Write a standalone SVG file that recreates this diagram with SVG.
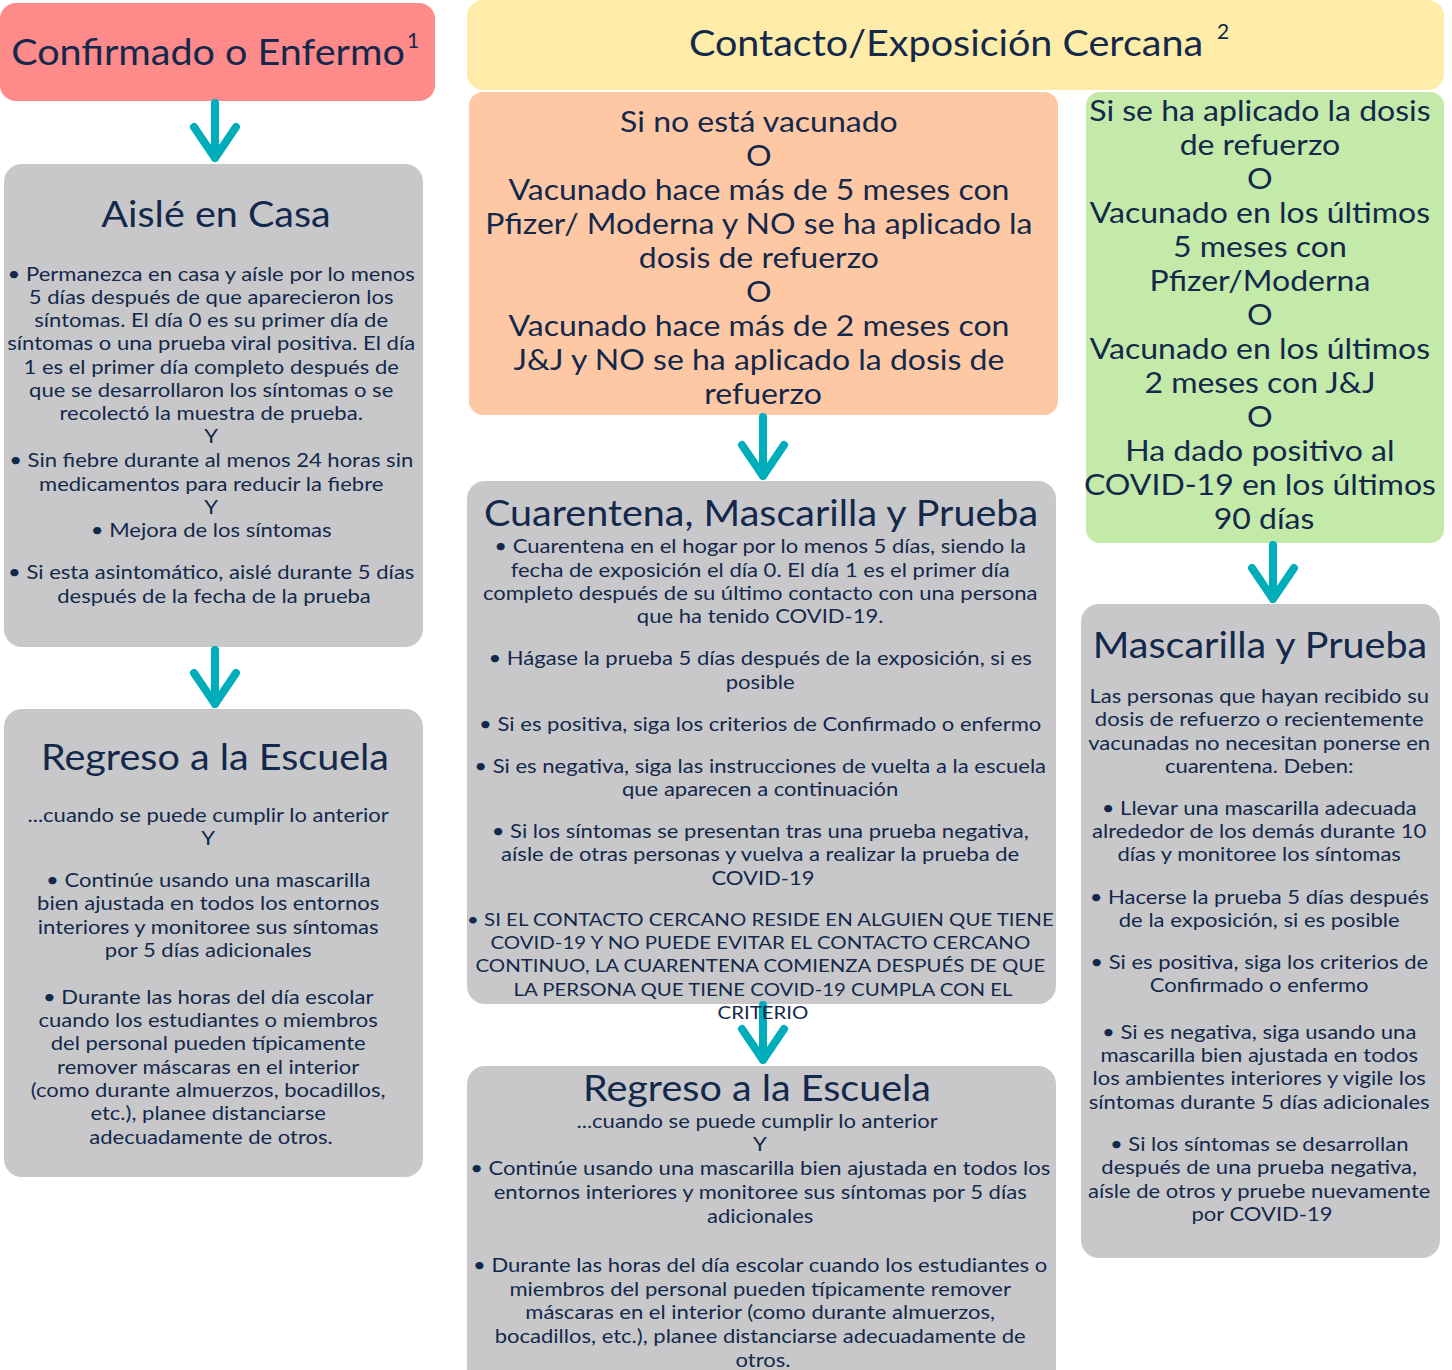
<svg xmlns="http://www.w3.org/2000/svg" width="1452" height="1370" viewBox="0 0 1452 1370">
<defs>
<style>
text{font-family:Lato,"Liberation Sans",sans-serif;fill:#13284a;text-anchor:middle}
.t{font-size:37px}
.b{font-size:19px}
.c{font-size:17.6px}
.m{font-size:28px}
.sup{font-size:21px;text-anchor:start}
.gray{fill:#c8c8ca}
.arr{stroke:#00adbb;stroke-width:8;fill:none;stroke-linecap:round;stroke-linejoin:round}
</style>
</defs>
<rect width="1452" height="1370" fill="#ffffff"/>
<g id="confirmado">
<rect x="0" y="3" width="435" height="98" rx="16" fill="#ff8a8a"/>
<g transform="translate(208 0) scale(1.068 1)"><text class="t" x="0" y="65">Confirmado o Enfermo</text></g>
<text class="sup" x="407" y="48">1</text>
</g>
<g id="contacto">
<rect x="467" y="0" width="977" height="90" rx="16" fill="#ffeca8"/>
<g transform="translate(946 0) scale(1.068 1)"><text class="t" x="0" y="56">Contacto/Exposición Cercana</text></g>
<text class="sup" x="1217" y="39">2</text>
</g>
<g id="no-vacunado">
<rect x="469" y="92" width="589" height="323" rx="14" fill="#ffc8a5"/>
<g transform="translate(763 0) scale(1.143 1)">
<text class="m">
<tspan x="0" y="132">Si no está vacunado</tspan>
<tspan x="0" y="166">O</tspan>
<tspan x="0" y="200">Vacunado hace más de 5 meses con</tspan>
<tspan x="0" y="234">Pfizer/ Moderna y NO se ha aplicado la</tspan>
<tspan x="0" y="268">dosis de refuerzo</tspan>
<tspan x="0" y="302">O</tspan>
<tspan x="0" y="336">Vacunado hace más de 2 meses con</tspan>
<tspan x="0" y="370">J&amp;J y NO se ha aplicado la dosis de</tspan>
<tspan x="0" y="404">refuerzo</tspan>
</text>
</g>
</g>
<g id="refuerzo">
<rect x="1086" y="92" width="358" height="451" rx="14" fill="#c3eaa8"/>
<g transform="translate(1264 0) scale(1.143 1)">
<text class="m">
<tspan x="0" y="121">Si se ha aplicado la dosis</tspan>
<tspan x="0" y="155">de refuerzo</tspan>
<tspan x="0" y="189">O</tspan>
<tspan x="0" y="223">Vacunado en los últimos</tspan>
<tspan x="0" y="257">5 meses con</tspan>
<tspan x="0" y="291">Pfizer/Moderna</tspan>
<tspan x="0" y="325">O</tspan>
<tspan x="0" y="359">Vacunado en los últimos</tspan>
<tspan x="0" y="393">2 meses con J&amp;J</tspan>
<tspan x="0" y="427">O</tspan>
<tspan x="0" y="461">Ha dado positivo al</tspan>
<tspan x="0" y="495">COVID-19 en los últimos</tspan>
<tspan x="0" y="529">90 días</tspan>
</text>
</g>
</g>
<g id="aisle">
<rect class="gray" x="4" y="164" width="419" height="483" rx="18"/>
<g transform="translate(216 0) scale(1.068 1)"><text class="t" x="0" y="227">Aislé en Casa</text></g>
<g transform="translate(214 0) scale(1.16 1)">
<text class="b">
<tspan x="0" y="281">• Permanezca en casa y aísle por lo menos</tspan>
<tspan x="0" y="304">5 días después de que aparecieron los</tspan>
<tspan x="0" y="327">síntomas. El día 0 es su primer día de</tspan>
<tspan x="0" y="350">síntomas o una prueba viral positiva. El día</tspan>
<tspan x="0" y="374">1 es el primer día completo después de</tspan>
<tspan x="0" y="397">que se desarrollaron los síntomas o se</tspan>
<tspan x="0" y="420">recolectó la muestra de prueba.</tspan>
<tspan x="0" y="443">Y</tspan>
<tspan x="0" y="467">• Sin fiebre durante al menos 24 horas sin</tspan>
<tspan x="0" y="491">medicamentos para reducir la fiebre</tspan>
<tspan x="0" y="514">Y</tspan>
<tspan x="0" y="537">• Mejora de los síntomas</tspan>
<tspan x="0" y="579">• Si esta asintomático, aislé durante 5 días</tspan>
<tspan x="0" y="603">después de la fecha de la prueba</tspan>
</text>
</g>
</g>
<g id="regreso-izq">
<rect class="gray" x="4" y="709" width="419" height="468" rx="18"/>
<g transform="translate(215 0) scale(1.068 1)"><text class="t" x="0" y="770">Regreso a la Escuela</text></g>
<g transform="translate(211 0) scale(1.16 1)">
<text class="b">
<tspan x="0" y="822">...cuando se puede cumplir lo anterior</tspan>
<tspan x="0" y="845">Y</tspan>
<tspan x="0" y="887">• Continúe usando una mascarilla</tspan>
<tspan x="0" y="910">bien ajustada en todos los entornos</tspan>
<tspan x="0" y="934">interiores y monitoree sus síntomas</tspan>
<tspan x="0" y="957">por 5 días adicionales</tspan>
<tspan x="0" y="1004">• Durante las horas del día escolar</tspan>
<tspan x="0" y="1027">cuando los estudiantes o miembros</tspan>
<tspan x="0" y="1050">del personal pueden típicamente</tspan>
<tspan x="0" y="1074">remover máscaras en el interior</tspan>
<tspan x="0" y="1097">(como durante almuerzos, bocadillos,</tspan>
<tspan x="0" y="1120">etc.), planee distanciarse</tspan>
<tspan x="0" y="1144">adecuadamente de otros.</tspan>
</text>
</g>
</g>
<g id="cuarentena">
<rect class="gray" x="467" y="481" width="589" height="523" rx="18"/>
<g transform="translate(761 0) scale(1.068 1)"><text class="t" x="0" y="526">Cuarentena, Mascarilla y Prueba</text></g>
<g transform="translate(763 0) scale(1.16 1)">
<text class="b">
<tspan x="0" y="553">• Cuarentena en el hogar por lo menos 5 días, siendo la</tspan>
<tspan x="0" y="577">fecha de exposición el día 0. El día 1 es el primer día</tspan>
<tspan x="0" y="600">completo después de su último contacto con una persona</tspan>
<tspan x="0" y="623">que ha tenido COVID-19.</tspan>
<tspan x="0" y="665">• Hágase la prueba 5 días después de la exposición, si es</tspan>
<tspan x="0" y="689">posible</tspan>
<tspan x="0" y="731">• Si es positiva, siga los criterios de Confirmado o enfermo</tspan>
<tspan x="0" y="773">• Si es negativa, siga las instrucciones de vuelta a la escuela</tspan>
<tspan x="0" y="796">que aparecen a continuación</tspan>
<tspan x="0" y="838">• Si los síntomas se presentan tras una prueba negativa,</tspan>
<tspan x="0" y="861">aísle de otras personas y vuelva a realizar la prueba de</tspan>
<tspan x="0" y="885">COVID-19</tspan>
</text>
<text class="c">
<tspan x="0" y="926">• SI EL CONTACTO CERCANO RESIDE EN ALGUIEN QUE TIENE</tspan>
<tspan x="0" y="949">COVID-19 Y NO PUEDE EVITAR EL CONTACTO CERCANO</tspan>
<tspan x="0" y="972">CONTINUO, LA CUARENTENA COMIENZA DESPUÉS DE QUE</tspan>
<tspan x="0" y="996">LA PERSONA QUE TIENE COVID-19 CUMPLA CON EL</tspan>
</text>
</g>
</g>
<g id="regreso-centro">
<rect class="gray" x="467" y="1066" width="589" height="324" rx="18"/>
<g transform="translate(757 0) scale(1.068 1)"><text class="t" x="0" y="1101">Regreso a la Escuela</text></g>
<g transform="translate(760 0) scale(1.16 1)">
<text class="b">
<tspan x="0" y="1128">...cuando se puede cumplir lo anterior</tspan>
<tspan x="0" y="1151">Y</tspan>
</text>
</g>
<g transform="translate(763 0) scale(1.16 1)">
<text class="b">
<tspan x="0" y="1175">• Continúe usando una mascarilla bien ajustada en todos los</tspan>
<tspan x="0" y="1199">entornos interiores y monitoree sus síntomas por 5 días</tspan>
<tspan x="0" y="1223">adicionales</tspan>
<tspan x="0" y="1272">• Durante las horas del día escolar cuando los estudiantes o</tspan>
<tspan x="0" y="1296">miembros del personal pueden típicamente remover</tspan>
<tspan x="0" y="1319">máscaras en el interior (como durante almuerzos,</tspan>
<tspan x="0" y="1343">bocadillos, etc.), planee distanciarse adecuadamente de</tspan>
<tspan x="0" y="1367">otros.</tspan>
</text>
</g>
</g>
<g id="mascarilla">
<rect class="gray" x="1081" y="604" width="359" height="654" rx="18"/>
<g transform="translate(1260 0) scale(1.068 1)"><text class="t" x="0" y="658">Mascarilla y Prueba</text></g>
<g transform="translate(1262 0) scale(1.16 1)">
<text class="b">
<tspan x="0" y="703">Las personas que hayan recibido su</tspan>
<tspan x="0" y="726">dosis de refuerzo o recientemente</tspan>
<tspan x="0" y="750">vacunadas no necesitan ponerse en</tspan>
<tspan x="0" y="773">cuarentena. Deben:</tspan>
<tspan x="0" y="815">• Llevar una mascarilla adecuada</tspan>
<tspan x="0" y="838">alrededor de los demás durante 10</tspan>
<tspan x="0" y="861">días y monitoree los síntomas</tspan>
<tspan x="0" y="904">• Hacerse la prueba 5 días después</tspan>
<tspan x="0" y="927">de la exposición, si es posible</tspan>
<tspan x="0" y="969">• Si es positiva, siga los criterios de</tspan>
<tspan x="0" y="992">Confirmado o enfermo</tspan>
<tspan x="0" y="1039">• Si es negativa, siga usando una</tspan>
<tspan x="0" y="1062">mascarilla bien ajustada en todos</tspan>
<tspan x="0" y="1085">los ambientes interiores y vigile los</tspan>
<tspan x="0" y="1109">síntomas durante 5 días adicionales</tspan>
<tspan x="0" y="1151">• Si los síntomas se desarrollan</tspan>
<tspan x="0" y="1174">después de una prueba negativa,</tspan>
<tspan x="0" y="1198">aísle de otros y pruebe nuevamente</tspan>
<tspan x="0" y="1221">por COVID-19</tspan>
</text>
</g>
</g>
<g id="connectors">
<path class="arr" d="M215 103V158M194 127L215 158L236 127"/>
<path class="arr" d="M215 650V704M194 673L215 704L236 673"/>
<path class="arr" d="M763 417V476M742 445L763 476L784 445"/>
<path class="arr" d="M763 1005V1060M742 1029L763 1060L784 1029"/>
<path class="arr" d="M1273 545V599M1252 568L1273 599L1294 568"/>
</g>
<g transform="translate(763 0) scale(1.16 1)"><text class="c" x="0" y="1019">CRITERIO</text></g>
</svg>
